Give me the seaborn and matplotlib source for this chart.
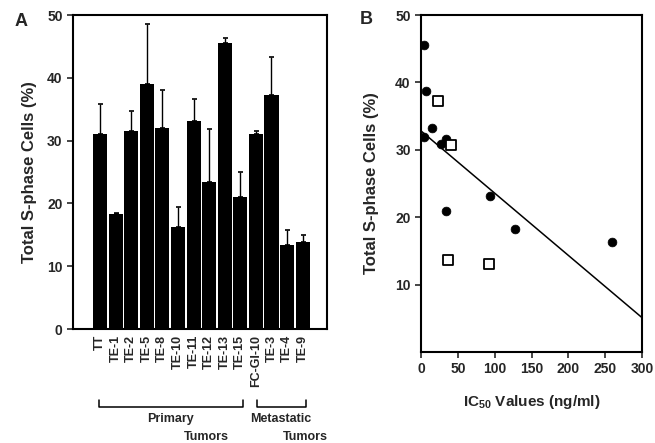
import numpy as np
import pandas as pd
import matplotlib
matplotlib.use("Agg")
import matplotlib.pyplot as plt
import matplotlib.transforms as mtransforms
import seaborn as sns

# panel A: S-phase fraction per cell line
cell_lines = ["TT", "TE-1", "TE-2", "TE-5", "TE-8", "TE-10", "TE-11", "TE-12",
              "TE-13", "TE-15", "FC-GI-10", "TE-3", "TE-4", "TE-9"]
sphase = [31.0, 18.3, 31.5, 39.0, 32.0, 16.3, 33.2, 23.4, 45.6, 21.1, 31.0, 37.2, 13.4, 13.9]
sphase_top = [35.8, 18.5, 34.8, 48.5, 38.0, 19.5, 36.6, 31.8, 46.3, 25.0, 31.5, 43.3, 15.8, 15.0]

# panel B: IC50 vs S-phase
ic50_circle = [3.5, 6.7, 14.8, 4.4, 26.9, 34.4, 34.4, 93.0, 127.6, 259.7]
sphase_circle = [45.6, 38.8, 33.3, 31.9, 30.9, 31.6, 20.9, 23.2, 18.2, 16.3]
ic50_square = [23.2, 40.3, 36.7, 91.7]
sphase_square = [37.3, 30.7, 13.7, 13.1]

sns.set_theme(style="ticks")
plt.rcParams["font.family"] = ["Liberation Sans", "DejaVu Sans"]
plt.rcParams["font.weight"] = "bold"
plt.rcParams["axes.labelweight"] = "bold"
plt.rcParams["mathtext.fontset"] = "custom"
plt.rcParams["mathtext.bf"] = "Liberation Sans:bold"
plt.rcParams["mathtext.rm"] = "Liberation Sans:bold"
plt.rcParams["mathtext.default"] = "bf"

fig = plt.figure(figsize=(6.55, 4.43), dpi=100)
axA = fig.add_axes([0.1115, 0.2573, 0.3875, 0.7087])
axB = fig.add_axes([0.643, 0.2054, 0.337, 0.7606])

# ---- panel A
dfa = pd.DataFrame({"line": cell_lines, "sphase": sphase})
sns.barplot(data=dfa, x="line", y="sphase", color="black", width=0.9,
            errorbar=None, saturation=1, linewidth=0, ax=axA)
xs = np.arange(len(cell_lines))
upper = np.array(sphase_top) - np.array(sphase)
axA.errorbar(xs, sphase, yerr=[np.zeros(len(xs)), upper], fmt="none",
             ecolor="black", elinewidth=1.0, capsize=1.8, capthick=1.2)
axA.set_xlim(-1.73, 14.55)
axA.set_ylim(0, 50)
axA.set_yticks([0, 10, 20, 30, 40, 50])
axA.set_xlabel("")
axA.set_ylabel("Total S-phase Cells (%)", fontsize=12, labelpad=7)
axA.tick_params(axis="x", length=0, labelsize=9, rotation=90, pad=4)
axA.tick_params(axis="y", length=4, width=1.2, labelsize=10, direction="out")

trans = mtransforms.blended_transform_factory(axA.transData, axA.transAxes)
for x0, x1 in [(-0.06, 9.16), (10.1, 13.2)]:
    axA.plot([x0, x0, x1, x1], [-0.226, -0.248, -0.248, -0.226], color="black",
             lw=1.1, transform=trans, clip_on=False)
axA.text(4.5, -0.287, "Primary", transform=trans, ha="center", va="center", fontsize=9)
axA.text(6.8, -0.344, "Tumors", transform=trans, ha="center", va="center", fontsize=9)
axA.text(11.6, -0.287, "Metastatic", transform=trans, ha="center", va="center", fontsize=9)
axA.text(13.2, -0.344, "Tumors", transform=trans, ha="center", va="center", fontsize=9)

# ---- panel B
axB.set_xlim(0, 300)
axB.set_ylim(0, 50)
all_x = ic50_circle + ic50_square
all_y = sphase_circle + sphase_square
sns.regplot(x=all_x, y=all_y, scatter=False, ci=None, truncate=False,
            line_kws={"color": "black", "lw": 1.1}, ax=axB)
sns.scatterplot(x=ic50_circle, y=sphase_circle, color="black", marker="o",
                s=40, edgecolor="black", ax=axB, zorder=3)
sns.scatterplot(x=ic50_square, y=sphase_square, color="white", marker="s",
                s=46, edgecolor="black", linewidth=1.3, ax=axB, zorder=3)
axB.set_xlim(0, 300)
axB.set_ylim(0, 50)
axB.set_xticks([0, 50, 100, 150, 200, 250, 300])
axB.set_yticks([10, 20, 30, 40, 50])
axB.set_xlabel(r"IC$_{50}$ Values (ng/ml)", fontsize=11, labelpad=12)
axB.set_ylabel("Total S-phase Cells (%)", fontsize=12, labelpad=12)
axB.tick_params(axis="both", length=4, width=1.2, labelsize=10, direction="out")

for ax in (axA, axB):
    for sp in ax.spines.values():
        sp.set_visible(True)
        sp.set_linewidth(1.5)
        sp.set_color("black")

fig.text(15 / 655, 1 - 22 / 443, "A", fontsize=13, fontweight="bold", va="center")
fig.text(360 / 655, 1 - 20 / 443, "B", fontsize=13, fontweight="bold", va="center")

fig.savefig("out.png", dpi=100)
